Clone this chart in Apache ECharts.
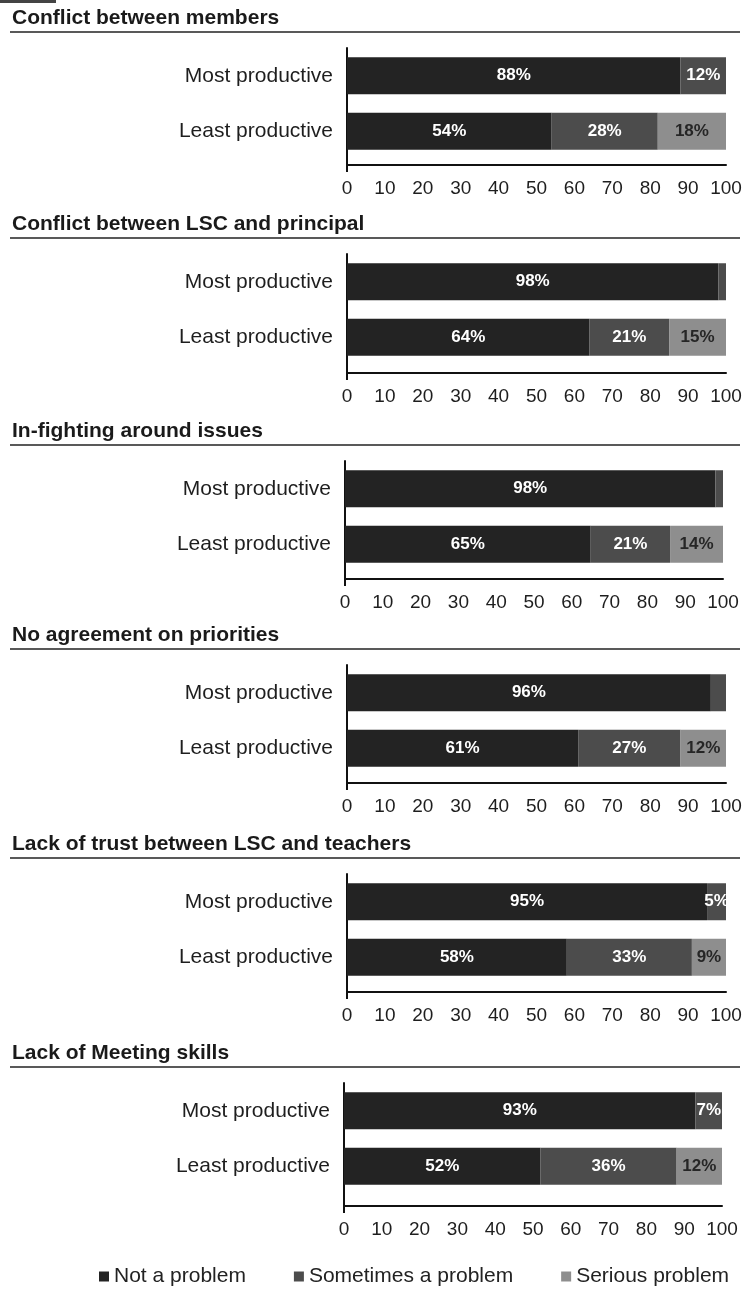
<!DOCTYPE html>
<html>
<head>
<meta charset="utf-8">
<script src="https://cdn.jsdelivr.net/npm/echarts@6/dist/echarts.min.js"></script>
<style>
html,body{margin:0;padding:0;background:#fff;}
#c{width:748px;height:1295px;}
</style>
</head>
<body>
<div id="c"></div>
<script>
// ---- data ----
const panelTitles = [
  'Conflict between members',
  'Conflict between LSC and principal',
  'In-fighting around issues',
  'No agreement on priorities',
  'Lack of trust between LSC and teachers',
  'Lack of Meeting skills'
];
const groups = ['Most productive', 'Least productive'];
const seriesNames = ['Not a problem', 'Sometimes a problem', 'Serious problem'];
// each pair: [Most productive, Least productive]
const notAProblem       = [[88, 54], [98, 64], [98, 65], [96, 61], [95, 58], [93, 52]];
const sometimesAProblem = [[12, 28], [2, 21],  [2, 21],  [4, 27],  [5, 33],  [7, 36]];
const seriousProblem    = [[0, 18],  [0, 15],  [0, 14],  [0, 12],  [0, 9],   [0, 12]];
const xTickMin = 0, xTickMax = 100, xTickStep = 10;

// ---- layout / style ----
const FONT = 'Liberation Sans, Arial, Helvetica, sans-serif';
const panelOffset = [0, 206, 413, 617, 826, 1035];
const axisLeft  = [347, 347, 345, 347, 347, 344];
const axisRight = [726, 726, 723, 726, 726, 722];
const xLineGap  = [6, 8, 7, 7, 7, 12];
const segColors = ['#232323', '#4c4c4c', '#8e8e8e'];
const labelColors = ['#ffffff', '#ffffff', '#262626'];
const seriesValues = [notAProblem, sometimesAProblem, seriousProblem];

const grids = [], xAxes = [], yAxes = [], series = [], titles = [], graphics = [];

graphics.push({type: 'rect', shape: {x: 0, y: 0, width: 56, height: 3}, style: {fill: '#444'}, silent: true});

panelTitles.forEach((t, i) => {
  const off = panelOffset[i];
  titles.push({
    text: t, left: 12, top: 8 + off, padding: 0,
    textStyle: {fontSize: 21, fontWeight: 'bold', color: '#1a1a1a', fontFamily: FONT}
  });
  graphics.push({
    type: 'line', silent: true,
    shape: {x1: 10, y1: 32 + off, x2: 740, y2: 32 + off},
    style: {stroke: '#222', lineWidth: 1.5}
  });
  grids.push({left: axisLeft[i], right: 748 - axisRight[i], top: 48 + off, height: 111});
  xAxes.push({
    gridIndex: i, type: 'value', position: 'bottom',
    min: xTickMin, max: xTickMax, interval: xTickStep,
    offset: xLineGap[i],
    axisLine: {show: true, lineStyle: {color: '#111', width: 2}},
    axisTick: {show: false}, splitLine: {show: false},
    axisLabel: {margin: 14, fontSize: 19, color: '#1e1e1e', fontFamily: FONT}
  });
  xAxes.push({
    gridIndex: i, type: 'value', position: 'bottom',
    min: xTickMin, max: xTickMax,
    axisLine: {show: false}, axisLabel: {show: false}, splitLine: {show: false},
    axisTick: {show: true, customValues: [0], length: xLineGap[i] + 7, lineStyle: {color: '#111', width: 2}}
  });
  yAxes.push({
    gridIndex: i, type: 'category', data: groups, inverse: true,
    axisLine: {show: true, lineStyle: {color: '#111', width: 2}},
    axisTick: {show: false},
    axisLabel: {margin: 14, fontSize: 21, color: '#1e1e1e', fontFamily: FONT}
  });
  seriesNames.forEach((name, s) => {
    series.push({
      name: name, type: 'bar', stack: 'p' + i,
      xAxisIndex: 2 * i, yAxisIndex: i,
      barWidth: 37,
      data: seriesValues[s][i],
      itemStyle: {color: segColors[s]},
      label: {
        show: true, position: 'inside',
        formatter: p => (p.value >= 5 ? p.value + '%' : ''),
        color: labelColors[s], fontSize: 17, fontWeight: 'bold', fontFamily: FONT
      },
      emphasis: {disabled: true}
    });
  });
});

const chart = echarts.init(document.getElementById('c'), null, {renderer: 'canvas'});
chart.setOption({
  animation: false,
  backgroundColor: '#ffffff',
  title: titles,
  grid: grids,
  xAxis: xAxes,
  yAxis: yAxes,
  series: series,
  graphic: graphics,
  legend: {
    data: seriesNames, left: 99, top: 1266, padding: 0,
    itemWidth: 10, itemHeight: 10, itemGap: 48, icon: 'rect',
    textStyle: {fontSize: 21, color: '#222', fontFamily: FONT}
  }
});
</script>
</body>
</html>
